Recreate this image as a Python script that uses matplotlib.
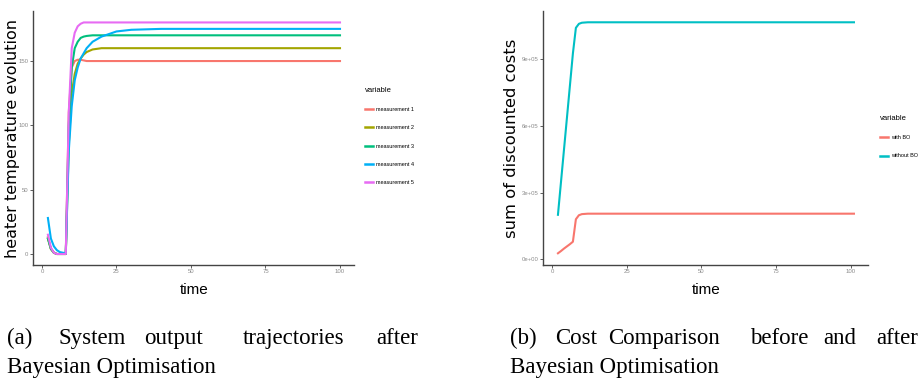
import matplotlib
matplotlib.use("Agg")
import matplotlib.pyplot as plt
from matplotlib.lines import Line2D

# ---- data ----
t_meas = [2, 3, 4, 5, 6, 7, 8, 9, 10, 11, 12, 13, 14, 15, 17, 20, 25, 30, 40, 60, 100]
meas1 = [13, 4, 1, 0, 0, 0, 0, 110, 145, 150, 151, 151, 150.5, 150, 150, 150, 150, 150, 150, 150, 150]
meas2 = [12, 4, 1, 0, 0, 0, 0, 85, 125, 140, 148, 152, 155, 157, 159, 160, 160, 160, 160, 160, 160]
meas3 = [12, 4, 1, 0, 0, 0, 0, 100, 145, 160, 165, 168, 169, 169.5, 170, 170, 170, 170, 170, 170, 170]
meas4 = [28, 12, 6, 3, 1.5, 1, 0.5, 80, 115, 135, 145, 152, 156, 160, 165, 169, 173, 174.3, 175, 175, 175]
meas5 = [15, 5, 1, 0, 0, 0, 0, 110, 160, 172, 177, 179, 180, 180, 180, 180, 180, 180, 180, 180, 180]
meas_names = ["measurement 1", "measurement 2", "measurement 3", "measurement 4", "measurement 5"]
meas_colors = ["#F8766D", "#A3A500", "#00BF7D", "#00B0F6", "#E76BF3"]

t_cost = [2, 3, 4, 5, 6, 7, 8, 9, 10, 12, 101]
cost_with = [27e3, 37e3, 48e3, 58e3, 68e3, 79e3, 180e3, 198e3, 203e3, 205e3, 205e3]
cost_without = [2.0e5, 3.45e5, 4.9e5, 6.35e5, 7.8e5, 9.25e5, 1.04e6, 1.058e6, 1.063e6, 1.065e6, 1.065e6]
cost_names = ["with BO", "without BO"]
cost_colors = ["#F8766D", "#00BFC4"]

x_ticks = [0, 25, 50, 75, 100]
y1_ticks = [0, 50, 100, 150]
y2_ticks = [0, 3e5, 6e5, 9e5]
y2_labels = ["0e+00", "3e+05", "6e+05", "9e+05"]

W, H = 918, 381
fig = plt.figure(figsize=(W / 100, H / 100), dpi=100)

def px(x0, y0, x1, y1):
    return [x0 / W, 1 - y1 / H, (x1 - x0) / W, (y1 - y0) / H]

def style(ax):
    for s in ["top", "right"]:
        ax.spines[s].set_visible(False)
    for s in ["left", "bottom"]:
        ax.spines[s].set_color("#444444")
        ax.spines[s].set_linewidth(1.0)
    ax.tick_params(length=2, width=0.6, color="#444444", labelsize=4.3,
                   labelcolor="#8a8a8a", pad=1.2)
    for lab in ax.get_xticklabels() + ax.get_yticklabels():
        lab.set_family("Liberation Sans")

# ---- left panel ----
ax1 = fig.add_axes(px(33, 11, 354, 265))
series = [meas1, meas2, meas3, meas4, meas5]
for vals, c in zip(series, meas_colors):
    ax1.plot(t_meas, vals, color=c, lw=1.5)
ax1.set_xlim(-3.0, 104.7)
ax1.set_ylim(-8.55, 188.9)
ax1.set_xticks(x_ticks)
ax1.set_yticks(y1_ticks)
style(ax1)

# ---- right panel ----
ax2 = fig.add_axes(px(543, 11, 868, 265))
ax2.plot(t_cost, cost_with, color=cost_colors[0], lw=1.5)
ax2.plot(t_cost, cost_without, color=cost_colors[1], lw=1.5)
ax2.set_xlim(-3.0, 105.7)
ax2.set_ylim(-25600, 1.1157e6)
ax2.set_xticks(x_ticks)
ax2.set_yticks(y2_ticks)
ax2.set_yticklabels(y2_labels)
style(ax2)

# axis labels
fig.text(194 / W, 1 - 290 / H, "time", ha="center", va="center",
         fontsize=11, family="Liberation Sans")
fig.text(706 / W, 1 - 290 / H, "time", ha="center", va="center",
         fontsize=11, family="Liberation Sans")
fig.text(12.5 / W, 1 - 138 / H, "heater temperature evolution", rotation=90,
         ha="center", va="center", fontsize=11.5, family="DejaVu Sans")
fig.text(512 / W, 1 - 138.5 / H, "sum of discounted costs", rotation=90,
         ha="center", va="center", fontsize=11.8, family="DejaVu Sans")

# legends
h1 = [Line2D([], [], color=c, lw=1.8) for c in meas_colors]
leg1 = fig.legend(h1, meas_names, title="variable", loc="upper left",
                  bbox_to_anchor=(362 / W, 1 - 84 / H), frameon=False,
                  fontsize=4, title_fontsize=5.5, handlelength=1.4, handletextpad=0.7,
                  labelspacing=2.4, alignment="left", borderpad=0)
h2 = [Line2D([], [], color=c, lw=1.8) for c in cost_colors]
leg2 = fig.legend(h2, cost_names, title="variable", loc="upper left",
                  bbox_to_anchor=(877 / W, 1 - 112 / H), frameon=False,
                  fontsize=4, title_fontsize=5.5, handlelength=1.4, handletextpad=0.6,
                  labelspacing=2.4, alignment="left", borderpad=0)
for leg in (leg1, leg2):
    leg.get_title().set_family("Liberation Sans")
    for txt in leg.get_texts():
        txt.set_family("Liberation Sans")

# captions (justified first lines)
cap_a = [("(a)", 7), ("System", 59), ("output", 144), ("trajectories", 243), ("after", 376)]
cap_b = [("(b)", 510), ("Cost", 555), ("Comparison", 608), ("before", 750), ("and", 823), ("after", 876)]
for word, x in cap_a + cap_b:
    fig.text(x / W, 1 - 344 / H, word, ha="left", va="baseline",
             fontsize=16.5, family="Liberation Serif")
for x in [7, 510]:
    fig.text(x / W, 1 - 373 / H, "Bayesian Optimisation", ha="left", va="baseline",
             fontsize=16.5, family="Liberation Serif")

fig.savefig("out.png", dpi=100)
